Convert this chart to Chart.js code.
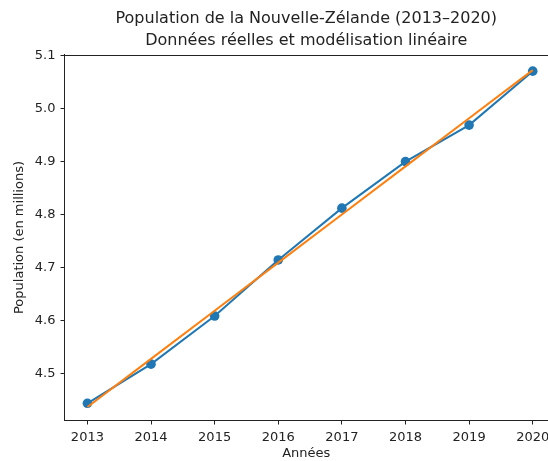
<!DOCTYPE html>
<html>
<head>
<meta charset="utf-8">
<script src="https://cdn.jsdelivr.net/npm/chart.js@4/dist/chart.umd.min.js"></script>
<style>
  html, body { margin: 0; padding: 0; background: #fff; overflow: hidden; }
  #wrap { position: relative; width: 548px; height: 461px; }
</style>
</head>
<body>
<div id="wrap"><canvas id="c"></canvas></div>
<script>
const years = [2013, 2014, 2015, 2016, 2017, 2018, 2019, 2020];
const population = [4.443, 4.517, 4.608, 4.714, 4.812, 4.900, 4.969, 5.071];
const linearModel = [4.436, 4.527, 4.618, 4.709, 4.800, 4.891, 4.982, 5.073];
const yTicks = [4.5, 4.6, 4.7, 4.8, 4.9, 5.0, 5.1];
const xTicks = [2013, 2014, 2015, 2016, 2017, 2018, 2019, 2020];
const titleLines = ['Population de la Nouvelle-Zélande (2013–2020)', 'Données réelles et modélisation linéaire'];

const FONT = "'DejaVu Sans', sans-serif";
const INK = '#222';

// top spine (the right spine lies outside the picture, as in the reference)
const frame = {
  id: 'frame',
  afterDraw(chart) {
    const a = chart.chartArea, ctx = chart.ctx;
    ctx.save();
    ctx.strokeStyle = INK;
    ctx.lineWidth = 1;
    const y = Math.round(a.top) + 0.5;
    ctx.beginPath();
    ctx.moveTo(a.left, y);
    ctx.lineTo(chart.width, y);
    ctx.stroke();
    ctx.restore();
  }
};

new Chart(document.getElementById('c'), {
  type: 'line',
  data: {
    datasets: [
      {
        label: 'Données réelles',
        data: years.map((y, i) => ({ x: y, y: population[i] })),
        borderColor: '#1f77b4',
        backgroundColor: '#1f77b4',
        borderWidth: 2,
        pointRadius: 4.8,
        pointHoverRadius: 4.8,
        pointBorderWidth: 0,
        order: 1
      },
      {
        label: 'Modèle linéaire',
        data: years.map((y, i) => ({ x: y, y: linearModel[i] })),
        borderColor: '#ff7f0e',
        backgroundColor: '#ff7f0e',
        borderWidth: 2,
        pointRadius: 0,
        order: 0
      }
    ]
  },
  options: {
    responsive: true,
    maintainAspectRatio: false,
    animation: false,
    layout: { autoPadding: false, padding: { top: 8, right: 0, left: 0, bottom: 0 } },
    plugins: {
      legend: { display: false },
      tooltip: { enabled: false },
      title: {
        display: true,
        text: titleLines,
        fullSize: false,
        color: INK,
        font: { family: FONT, size: 16, weight: 'normal', lineHeight: 1.375 },
        padding: { top: 0, bottom: 2.5 }
      }
    },
    scales: {
      x: {
        type: 'linear',
        min: 2012.64,
        max: 2020.24,
        afterBuildTicks: s => { s.ticks = xTicks.map(v => ({ value: v })); },
        afterFit: s => { s.height = 40.5; s.paddingLeft = 0; s.paddingRight = 0; },
        ticks: {
          color: INK, font: { family: FONT, size: 13 }, padding: 5,
          callback: v => String(v), maxRotation: 0, autoSkip: false
        },
        grid: { display: true, drawOnChartArea: false, drawTicks: true, tickLength: 4, color: INK },
        border: { display: true, color: INK },
        title: { display: true, text: 'Années', color: INK, font: { family: FONT, size: 13 }, padding: { top: 0, bottom: 0 } }
      },
      y: {
        type: 'linear',
        min: 4.4105,
        max: 5.1025,
        afterBuildTicks: s => { s.ticks = yTicks.map(v => ({ value: v })); },
        afterFit: s => { s.width = 64.5; },
        ticks: {
          color: INK, font: { family: FONT, size: 13 }, padding: 5,
          callback: v => Number(v).toFixed(1), autoSkip: false
        },
        grid: { display: true, drawOnChartArea: false, drawTicks: true, tickLength: 4, color: INK },
        border: { display: true, color: INK },
        title: { display: true, text: 'Population (en millions)', color: INK, font: { family: FONT, size: 13 }, padding: { top: 12, bottom: 0 } }
      }
    }
  },
  plugins: [frame]
});
</script>
</body>
</html>
